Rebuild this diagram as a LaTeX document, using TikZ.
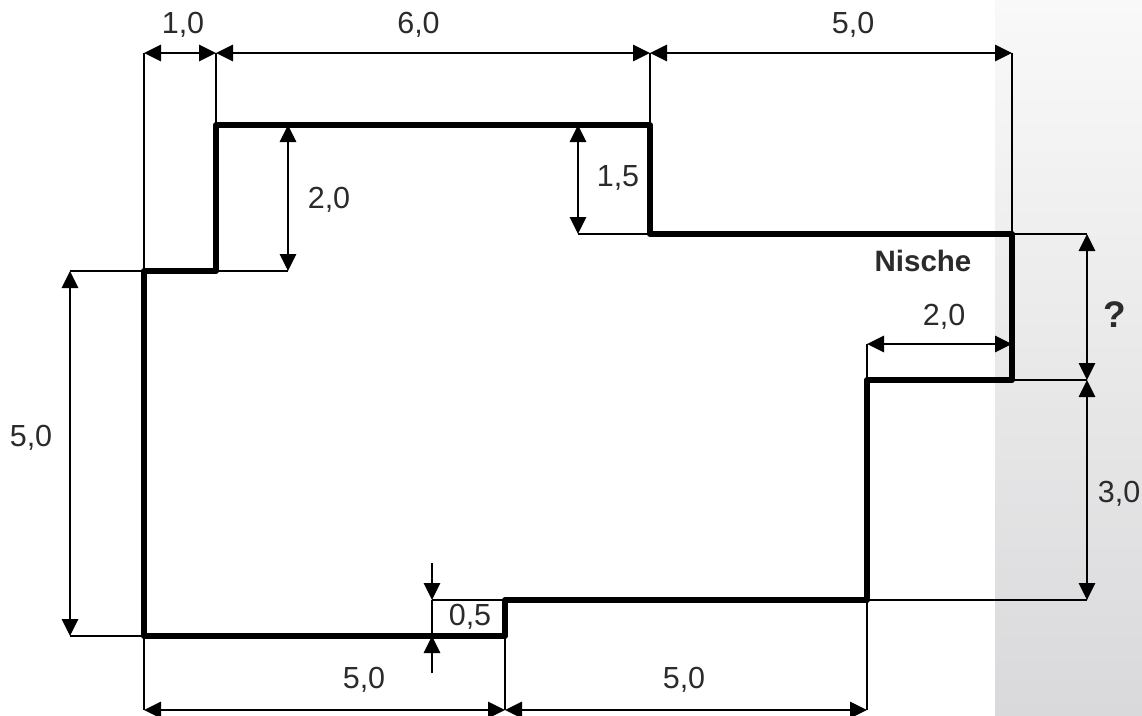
\documentclass[tikz,border=0pt]{standalone}
\usepackage{fontspec}
\setmainfont{Liberation Sans}
\usetikzlibrary{arrows.meta}
\definecolor{txt}{HTML}{2B2B2B}
\definecolor{bandtop}{HTML}{F9F9F9}
\definecolor{bandbot}{HTML}{D9D9DB}
\pgfdeclareverticalshading{bandshade}{100bp}{color(0bp)=(bandbot); color(25bp)=(bandbot); color(75bp)=(bandtop); color(100bp)=(bandtop)}
\tikzset{
  outline/.style={draw=black,line width=6pt,line join=round},
  extline/.style={draw=black,line width=1.6pt},
  dimline/.style={draw=black,line width=1.6pt,{Triangle[length=17pt,width=16.5pt]}-{Triangle[length=17pt,width=16.5pt]}},
  oneway/.style={draw=black,line width=1.6pt,-{Triangle[length=17pt,width=16.5pt]}},
  lab/.style={text=txt,font=\fontsize{30.5}{36}\selectfont,inner sep=0pt,anchor=base},
  blab/.style={text=txt,font=\fontsize{29.5}{36}\selectfont\bfseries,inner sep=0pt,anchor=base},
  qlab/.style={text=txt,font=\fontsize{37}{44}\selectfont\bfseries,inner sep=0pt,anchor=base}
}
\begin{document}
\begin{tikzpicture}[x=1pt,y=-1pt]
\useasboundingbox (0,0) rectangle (1142,715);
\fill[white] (0,0) rectangle (1142,715);
\shade[shading=bandshade,draw=none] (995,0) rectangle (1142,715);
% corners
\coordinate (a) at (144,271);
\coordinate (b) at (216,271);
\coordinate (c) at (216,125);
\coordinate (d) at (650,125);
\coordinate (e) at (650,234);
\coordinate (f) at (1012,234);
\coordinate (g) at (1012,380);
\coordinate (h) at (867,380);
\coordinate (i) at (867,600);
\coordinate (j) at (505,600);
\coordinate (k) at (505,636);
\coordinate (l) at (144,636);
% top dims
\coordinate (t1) at (144,53);
\coordinate (t2) at (216,53);
\coordinate (t3) at (650,53);
\coordinate (t4) at (1012,53);
% left dims
\coordinate (l1) at (70,271);
\coordinate (l2) at (70,636);
% inner
\coordinate (m1) at (288,125);
\coordinate (m2) at (288,271);
\coordinate (n1) at (578,125);
\coordinate (n2) at (578,234);
% right
\coordinate (r1) at (1087,234);
\coordinate (r2) at (1087,380);
\coordinate (r3) at (1087,600);
% niche
\coordinate (s1) at (867,344);
\coordinate (s2) at (1012,344);
% bottom
\coordinate (u1) at (144,710);
\coordinate (u2) at (505,710);
\coordinate (u3) at (867,710);
% 0,5
\coordinate (v0) at (432,563);
\coordinate (v1) at (432,600);
\coordinate (v2) at (432,636);
\coordinate (v3) at (432,673);
% extension lines
\draw[extline] (l) -- (t1);
\draw[extline] (c) -- (t2);
\draw[extline] (d) -- (t3);
\draw[extline] (f) -- (t4);
\draw[extline] (a) -- (l1);
\draw[extline] (l) -- (l2);
\draw[extline] (b) -- (m2);
\draw[extline] (e) -- (n2);
\draw[extline] (f) -- (r1);
\draw[extline] (g) -- (r2);
\draw[extline] (i) -- (r3);
\draw[extline] (h) -- (s1);
\draw[extline] (l) -- (u1);
\draw[extline] (k) -- (u2);
\draw[extline] (i) -- (u3);
\draw[extline] (j) -- (v1);
\draw[extline] (v1) -- (v2);
% dimension lines
\draw[dimline] (t1) -- (t2);
\draw[dimline] (t2) -- (t3);
\draw[dimline] (t3) -- (t4);
\draw[dimline] (l1) -- (l2);
\draw[dimline] (m1) -- (m2);
\draw[dimline] (n1) -- (n2);
\draw[dimline] (r1) -- (r2);
\draw[dimline] (r2) -- (r3);
\draw[dimline] (s1) -- (s2);
\draw[dimline] (u1) -- (u2);
\draw[dimline] (u2) -- (u3);
\draw[oneway] (v0) -- (v1);
\draw[oneway] (v3) -- (v2);
% outline
\draw[outline] (a) -- (b) -- (c) -- (d) -- (e) -- (f) -- (g) -- (h) -- (i) -- (j) -- (k) -- (l) -- cycle;
% labels
\node[lab] (n10) at (183,33) {1,0};
\node[lab] (n60) at (418.5,33) {6,0};
\node[lab] (n50a) at (853,33) {5,0};
\node[lab] (n20a) at (329,208) {2,0};
\node[lab] (n15) at (618,186) {1,5};
\node[blab] (nis) at (923,271) {Nische};
\node[lab] (n20b) at (944,325) {2,0};
\node[qlab] (q) at (1115,327) {?};
\node[lab] (n50b) at (31,446) {5,0};
\node[lab] (n30) at (1119,502) {3,0};
\node[lab] (n05) at (470,625) {0,5};
\node[lab] (n50c) at (364,688) {5,0};
\node[lab] (n50d) at (684,688) {5,0};
\end{tikzpicture}
\end{document}
